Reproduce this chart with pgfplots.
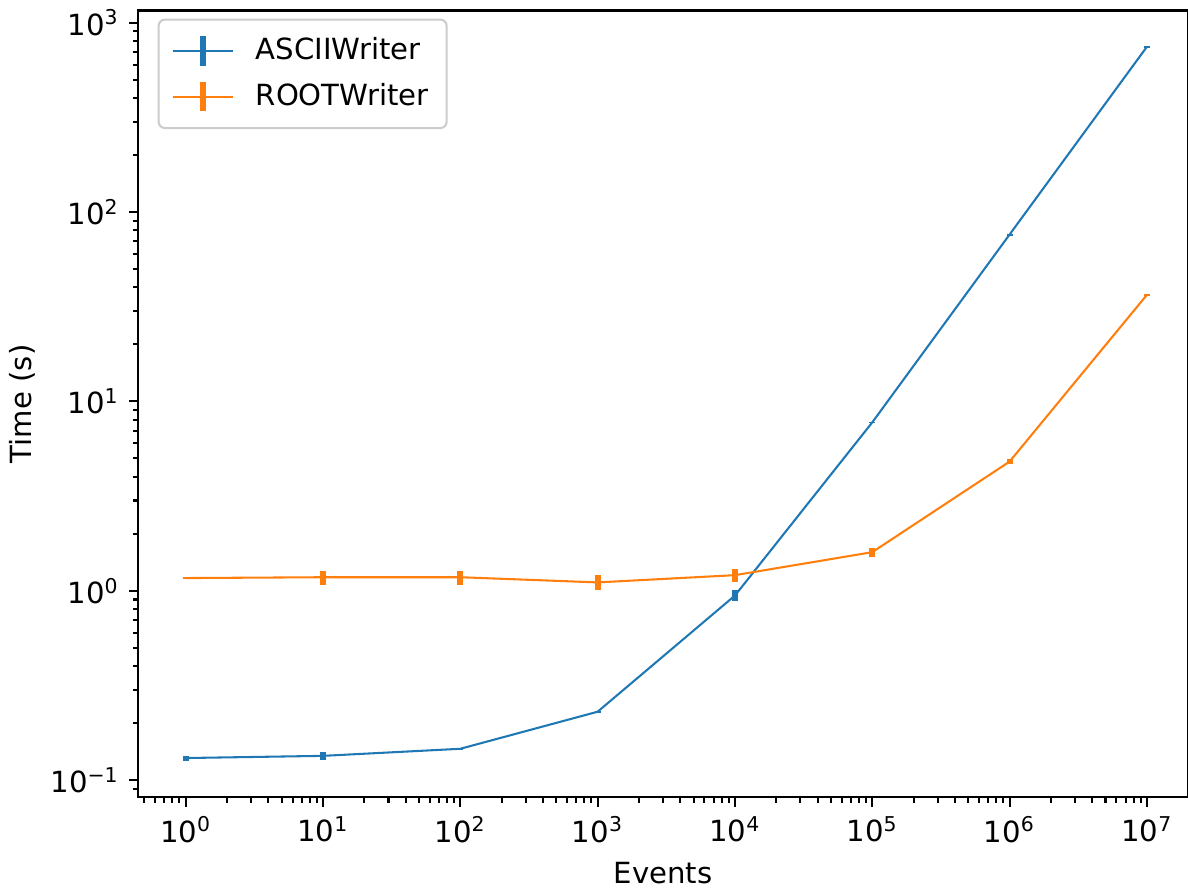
\documentclass[border=0pt]{standalone}
\usepackage{fontspec}
\setmainfont{DejaVu Sans}
\usepackage{pgfplots}
\pgfplotsset{compat=1.18}
\definecolor{tabblue}{HTML}{1F77B4}
\definecolor{taborange}{HTML}{FF7F0E}

\pgfplotstableread{
x       y      e
1       0.131  0.004
10      0.1345 0.0065
100     0.1466 0.001
1000    0.230  0.003
10000   0.944  0.065
100000  7.75   0.05
1000000 76     1
10000000 745   5
}\ascii

\pgfplotstableread{
x       y      e
1       1.168  0.012
10      1.18   0.10
100     1.18   0.10
1000    1.108  0.10
10000   1.21   0.10
100000  1.60   0.09
1000000 4.81   0.15
10000000 36.5  0.5
}\root

\newcommand\expo[1]{\pgfmathtruncatemacro\ex{round(#1)}10\textsuperscript{\ifnum\ex<0 −\number-\ex\else\ex\fi}}

\begin{document}
\fontsize{11.3}{13.5}\selectfont
\begin{tikzpicture}[trim axis right]
\begin{loglogaxis}[
  scale only axis,
  width=14.30cm, height=10.72cm,
  log basis x=10, log basis y=10,
  xmin=0.4529, xmax=1.995e7,
  ymin=0.0813, ymax=1159,
  font=\fontsize{11.3}{13.5}\selectfont,
  xlabel={Events}, ylabel={Time (s)},
  xticklabel={\expo{\tick}}, yticklabel={\expo{\tick}},
  tick align=outside, tick pos=left,
  major tick length=3.6pt, minor tick length=2.2pt,
  every tick/.style={black, line width=0.8pt},
  axis line style={line width=0.8pt},
  ylabel style={yshift=-2pt},
  legend style={at={(0,1)}, anchor=north west, xshift=0.26cm, yshift=-0.11cm,
    draw=black!20, rounded corners=2.5pt, line width=0.8pt,
    row sep=3.5pt, inner xsep=5pt, inner ysep=5pt,
    font=\fontsize{11.3}{13.5}\selectfont},
  legend cell align=left,
  legend image code/.code={
    \draw[#1, line width=0.8pt] (0cm,0cm) -- (0.82cm,0cm);
    \draw[#1, line width=2.3pt] (0.41cm,-0.2cm) -- (0.41cm,0.2cm);
    \path (1.05cm,0cm);
  },
  error bars/error bar style={line width=2.3pt},
  error bars/error mark=none,
]
\addplot[tabblue, line width=0.8pt, mark=none,
  error bars/.cd, y dir=both, y explicit]
  table[x=x, y=y, y error=e] {\ascii};
\addlegendentry{ASCIIWriter}
\addplot[taborange, line width=0.8pt, mark=none,
  error bars/.cd, y dir=both, y explicit]
  table[x=x, y=y, y error=e] {\root};
\addlegendentry{ROOTWriter}
\end{loglogaxis}
\end{tikzpicture}
\end{document}
